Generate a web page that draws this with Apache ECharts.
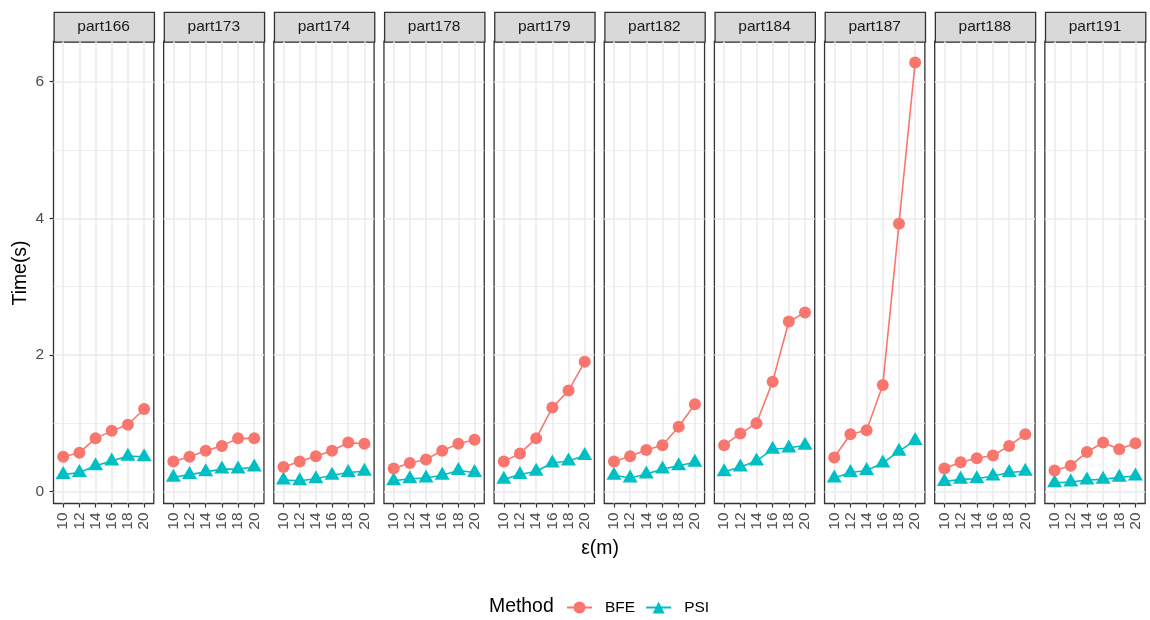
<!DOCTYPE html>
<html>
<head>
<meta charset="utf-8">
<script src="https://cdn.jsdelivr.net/npm/echarts@6/dist/echarts.min.js"></script>
<style>
html,body{margin:0;padding:0;background:#fff;}
#chart{width:1150px;height:620px;}
</style>
</head>
<body>
<div id="chart"></div>
<script>
// ---- data ----
const eps = [10, 12, 14, 16, 18, 20];
const parts = ['part166','part173','part174','part178','part179','part182','part184','part187','part188','part191'];
const yTicks = [0, 2, 4, 6];

const BFE_166 = [0.51, 0.57, 0.78, 0.89, 0.98, 1.21];
const BFE_173 = [0.44, 0.51, 0.60, 0.67, 0.78, 0.78];
const BFE_174 = [0.36, 0.44, 0.52, 0.60, 0.72, 0.70];
const BFE_178 = [0.34, 0.42, 0.47, 0.60, 0.70, 0.76];
const BFE_179 = [0.44, 0.56, 0.78, 1.23, 1.48, 1.90];
const BFE_182 = [0.44, 0.52, 0.61, 0.68, 0.95, 1.28];
const BFE_184 = [0.68, 0.85, 1.00, 1.61, 2.49, 2.62];
const BFE_187 = [0.50, 0.84, 0.90, 1.56, 3.92, 6.28];
const BFE_188 = [0.34, 0.43, 0.49, 0.53, 0.67, 0.84];
const BFE_191 = [0.31, 0.38, 0.58, 0.72, 0.62, 0.71];

const PSI_166 = [0.25, 0.28, 0.38, 0.45, 0.52, 0.51];
const PSI_173 = [0.21, 0.25, 0.29, 0.33, 0.33, 0.36];
const PSI_174 = [0.17, 0.16, 0.19, 0.24, 0.28, 0.30];
const PSI_178 = [0.16, 0.19, 0.20, 0.24, 0.31, 0.28];
const PSI_179 = [0.18, 0.25, 0.30, 0.42, 0.45, 0.53];
const PSI_182 = [0.24, 0.20, 0.26, 0.33, 0.38, 0.43];
const PSI_184 = [0.29, 0.36, 0.45, 0.62, 0.64, 0.68];
const PSI_187 = [0.20, 0.28, 0.31, 0.42, 0.59, 0.75];
const PSI_188 = [0.15, 0.18, 0.19, 0.23, 0.28, 0.30];
const PSI_191 = [0.13, 0.14, 0.17, 0.18, 0.21, 0.23];

const BFE = [BFE_166, BFE_173, BFE_174, BFE_178, BFE_179, BFE_182, BFE_184, BFE_187, BFE_188, BFE_191];
const PSI = [PSI_166, PSI_173, PSI_174, PSI_178, PSI_179, PSI_182, PSI_184, PSI_187, PSI_188, PSI_191];

// ---- layout / style ----
const FONT = "'Liberation Sans', Arial, Helvetica, sans-serif";
const C_BFE = '#F8766D', C_PSI = '#00BFC4';
const P_LEFT = 53.5, P_STEP = 110.15, P_W = 100.3, P_TOP = 41.5, P_H = 462;
const STRIP_TOP = 11.7, STRIP_H = 29.8;
const Y_MIN = -0.173, Y_MAX = 6.587;

const grids = [], xAxes = [], yAxes = [], series = [], graphics = [];
parts.forEach((p, i) => {
  const left = P_LEFT + P_STEP * i;
  grids.push({left: left, top: P_TOP, width: P_W, height: P_H, show: true,
    borderColor: '#333333', borderWidth: 1.3, backgroundColor: '#ffffff'});
  xAxes.push({
    gridIndex: i, type: 'value', min: 8.8, max: 21.2, splitNumber: 6, position: 'bottom',
    axisLine: {show: false, onZero: false},
    axisTick: {show: true, length: 4, customValues: eps, lineStyle: {color: '#333333', width: 1.2}},
    axisLabel: {show: true, customValues: eps, rotate: 90, margin: 9, fontSize: 15.5,
      color: '#4D4D4D', fontFamily: FONT},
    splitLine: {show: true, lineStyle: {color: '#EBEBEB', width: 1.6}}
  });
  yAxes.push({
    gridIndex: i, type: 'value', min: Y_MIN, max: Y_MAX, splitNumber: 3, minInterval: 2, maxInterval: 2,
    position: 'left',
    axisLine: {show: false, onZero: false},
    axisTick: {show: i === 0, length: 4, customValues: yTicks, lineStyle: {color: '#333333', width: 1.2}},
    axisLabel: {show: i === 0, customValues: yTicks, margin: 9.5, fontSize: 15.5,
      color: '#4D4D4D', fontFamily: FONT},
    splitLine: {show: true, lineStyle: {color: '#EBEBEB', width: 1.6}},
    minorTick: {show: false, splitNumber: 2},
    minorSplitLine: {show: true, lineStyle: {color: '#EBEBEB', width: 0.8}}
  });
  series.push({
    name: 'BFE', type: 'line', xAxisIndex: i, yAxisIndex: i,
    data: eps.map((x, j) => [x, BFE[i][j]]),
    symbol: 'circle', symbolSize: 12,
    lineStyle: {color: C_BFE, width: 1.6}, itemStyle: {color: C_BFE},
    z: 3
  });
  series.push({
    name: 'PSI', type: 'line', xAxisIndex: i, yAxisIndex: i,
    data: eps.map((x, j) => [x, PSI[i][j]]),
    symbol: 'triangle', symbolSize: [15, 13], symbolOffset: [0, -2],
    lineStyle: {color: C_PSI, width: 1.6}, itemStyle: {color: C_PSI},
    z: 2
  });
  graphics.push({
    type: 'rect', left: left, top: STRIP_TOP,
    shape: {width: P_W, height: STRIP_H},
    style: {fill: '#D9D9D9', stroke: '#333333', lineWidth: 1.3}
  });
  graphics.push({
    type: 'text', x: left + P_W / 2, y: STRIP_TOP + STRIP_H / 2 + 0.5,
    style: {text: p, fill: '#1A1A1A', font: '15.5px ' + FONT, align: 'center', verticalAlign: 'middle'}
  });
});

graphics.push({
  type: 'text', x: 21, y: 273, rotation: Math.PI / 2,
  style: {text: 'Time(s)', fill: '#000', font: '19.4px ' + FONT, align: 'center', verticalAlign: 'middle'}
});
graphics.push({
  type: 'text', x: 600, y: 549,
  style: {text: 'ε(m)', fill: '#000', font: '19.4px ' + FONT, align: 'center', verticalAlign: 'middle'}
});
graphics.push({
  type: 'text', x: 489, y: 607,
  style: {text: 'Method', fill: '#000', font: '19.4px ' + FONT, align: 'left', verticalAlign: 'middle'}
});

const chart = echarts.init(document.getElementById('chart'), null, {renderer: 'canvas'});
chart.setOption({
  animation: false,
  backgroundColor: '#ffffff',
  grid: grids,
  xAxis: xAxes,
  yAxis: yAxes,
  series: series,
  legend: {
    data: ['BFE', 'PSI'], left: 566, top: 599.5, orient: 'horizontal',
    itemWidth: 25, itemHeight: 15, itemGap: 10, padding: 0,
    textStyle: {fontSize: 15.5, color: '#000', fontFamily: FONT, padding: [0, 0, 0, 8]}
  },
  graphic: graphics
});
</script>
</body>
</html>
